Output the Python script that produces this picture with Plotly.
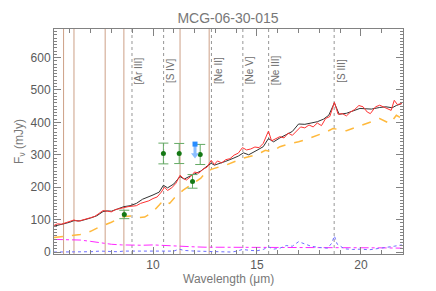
import plotly.graph_objects as go

title = "MCG-06-30-015"
x_title = "Wavelength (μm)"
y_title = "F<sub>ν</sub> (mJy)"

# Model (black)
model_wl = [5.24, 5.5, 5.7, 6.0, 6.2, 6.5, 6.8, 7.0, 7.3, 7.6, 7.8, 8.0, 8.3, 8.6, 8.9, 9.2, 9.5, 9.8,
            10.0, 10.3, 10.5, 10.7, 11.0, 11.3, 11.5, 11.8, 12.0, 12.3, 12.6, 12.8, 12.95, 13.2, 13.5,
            13.85, 14.1, 14.35, 14.6, 15.0, 15.3, 15.55, 15.8, 16.1, 16.4, 16.7, 17.0, 17.3, 17.6, 17.9,
            18.2, 18.45, 18.72, 18.95, 19.3, 19.6, 19.95, 20.2, 20.5, 20.9, 21.2, 21.5, 21.7, 21.96]
model_flux = [80, 85, 87, 92, 97, 96, 100, 105, 112, 125, 127, 126, 133, 140, 143, 150, 163, 170,
              176, 185, 206, 198, 210, 233, 225, 235, 242, 250, 265, 274, 268, 273, 280,
              289, 296, 306, 300, 314, 325, 350, 340, 352, 362, 372, 395, 394, 398, 402,
              410, 422, 460, 425, 428, 435, 443, 442, 441, 446, 448, 445, 452, 458]

# Spectrum (red)
spec_wl = [5.24, 5.4, 5.6, 5.8, 6.0, 6.2, 6.4, 6.6, 6.8, 7.0, 7.2, 7.4, 7.6, 7.8, 8.0, 8.2, 8.4, 8.6,
           8.8, 9.0, 9.2, 9.4, 9.6, 9.8, 10.0, 10.2, 10.4, 10.55, 10.7, 10.9, 11.1, 11.3, 11.45, 11.6,
           11.8, 12.0, 12.2, 12.4, 12.6, 12.8, 12.95, 13.1, 13.3, 13.5, 13.7, 13.9, 14.1, 14.3, 14.5,
           14.7, 14.9, 15.1, 15.3, 15.55, 15.7, 15.9, 16.1, 16.3, 16.5, 16.7, 16.9, 17.1, 17.3, 17.5,
           17.7, 17.9, 18.1, 18.3, 18.5, 18.72, 18.9, 19.1, 19.3, 19.5, 19.7, 19.9, 20.1, 20.3, 20.45,
           20.7, 20.9, 21.1, 21.3, 21.45, 21.6, 21.75, 21.96]
spec_flux = [82, 87, 86, 90, 95, 99, 95, 98, 103, 106, 110, 118, 128, 126, 124, 131, 133, 137,
             140, 142, 143, 150, 153, 158, 165, 170, 185, 200, 190, 198, 212, 237, 228, 222,
             232, 247, 243, 255, 262, 283, 270, 281, 275, 285, 288, 299, 305, 322, 315,
             318, 324, 322, 335, 373, 343, 350, 356, 352, 367, 360, 374, 386, 383, 392,
             386, 398, 390, 412, 418, 462, 425, 427, 420, 432, 440, 452, 448, 432, 427,
             448, 453, 447, 440, 437, 468, 455, 458]

# Continuum (orange dashed)
cont_wl = [5.24, 5.6, 6.0, 6.5, 7.0, 7.45, 8.0, 8.6, 9.0, 9.3, 9.6, 10.0, 10.3, 10.5, 10.8, 11.1,
           11.45, 11.8, 12.0, 12.3, 12.5, 12.8, 13.0, 13.2, 13.5, 13.85, 14.3, 14.6, 14.9, 15.2, 15.4,
           15.7, 16.1, 16.5, 17.0, 17.4, 17.7, 18.0, 18.35, 18.65, 19.0, 19.3, 19.8, 20.27, 20.6,
           20.9, 21.2, 21.4, 21.7, 21.96]
cont_flux = [45, 48, 50, 54, 64, 78, 92, 110, 111, 106, 108, 124, 145, 160, 150, 172,
             191, 205, 215, 228, 243, 255, 258, 263, 268, 278, 289, 294, 299, 307, 314,
             309, 325, 333, 340, 348, 355, 362, 371, 381, 376, 374, 386, 396, 404,
             412, 402, 396, 422, 412]

# Stellar-like component (magenta dash-dot)
star_wl = [5.24, 6.0, 6.5, 7.0, 7.5, 8.0, 8.5, 9.0, 9.5, 10.0, 10.5, 11.0, 11.5, 12.0, 12.5, 13.0,
           14.0, 15.0, 16.0, 17.0, 18.0, 19.0, 20.0, 21.0, 21.96]
star_flux = [39, 38, 37, 33, 28, 24, 22, 21, 21, 22, 20, 19, 18, 16, 15, 15,
             14, 14, 14, 14, 14, 13, 13, 13, 12]

# Line component (blue dotted)
line_wl = [5.24, 6.0, 6.5, 7.0, 7.45, 7.8, 8.3, 8.6, 9.0, 9.5, 10.0, 10.5, 11.0, 11.25, 11.5, 12.0,
           12.5, 12.8, 13.2, 13.8, 14.1, 14.3, 14.7, 15.0, 15.3, 15.55, 15.8, 16.1, 16.4, 16.7, 17.0,
           17.3, 17.6, 18.0, 18.4, 18.6, 18.72, 18.85, 19.2, 19.6, 20.0, 20.4, 20.8, 21.2, 21.6, 21.96]
line_flux = [0, 0, 1, 1, 3, 2, 1, 3, 3, 2, 1, 2, 3, 9, 5, 3,
             2, 3, 1, 0, 4, 8, 5, 4, 8, 16, 9, 12, 20, 18, 32,
             24, 18, 14, 12, 28, 50, 25, 10, 8, 9, 7, 10, 14, 18, 22]

# Photometry (green points)
phot_wl = [8.62, 10.5, 11.26, 11.9, 12.27]
phot_flux = [116, 304, 304, 218, 301]
phot_err = [13, 32, 31, 21, 31]

# Upper limit (blue)
lim_wl = [12.02]
lim_flux = [333]
lim_arrow_to = [299]

# PAH features (solid tan lines)
pah_wl = [5.7, 6.2, 7.7, 8.6, 11.3, 12.7]
# Emission lines (dotted)
em_wl = [8.99, 10.51, 12.81, 14.32, 15.56, 18.71]
em_names = ["[Ar III]", "[S IV]", "[Ne II]", "[Ne V]", "[Ne III]", "[S III]"]
em_label_y = 560

x_range = [5.24, 22.02]
y_range = [-6, 688]

fig = go.Figure()

for w in pah_wl:
    fig.add_shape(type="line", x0=w, x1=w, y0=0, y1=1, xref="x", yref="paper",
                  line=dict(color="rgb(205,160,135)", width=1), layer="below")
for w, nm in zip(em_wl, em_names):
    fig.add_shape(type="line", x0=w, x1=w, y0=0, y1=1, xref="x", yref="paper",
                  line=dict(color="rgb(150,150,150)", width=1, dash="dot"), layer="below")
    fig.add_annotation(x=w, y=em_label_y, text=nm, textangle=-90, showarrow=False,
                       xanchor="center", yanchor="middle", xshift=7,
                       font=dict(size=10, color="rgb(110,110,110)"))

fig.add_trace(go.Scatter(x=star_wl, y=star_flux, mode="lines",
                         line=dict(color="rgb(255,40,255)", width=1, dash="dashdot")))
fig.add_trace(go.Scatter(x=line_wl, y=line_flux, mode="lines",
                         line=dict(color="rgb(110,110,255)", width=1, dash="dot")))
fig.add_trace(go.Scatter(x=cont_wl, y=cont_flux, mode="lines",
                         line=dict(color="rgb(255,185,60)", width=1.5, dash="dash")))
fig.add_trace(go.Scatter(x=model_wl, y=model_flux, mode="lines",
                         line=dict(color="rgb(50,50,50)", width=1)))
fig.add_trace(go.Scatter(x=spec_wl, y=spec_flux, mode="lines",
                         line=dict(color="rgb(255,50,50)", width=1)))
fig.add_trace(go.Scatter(x=phot_wl, y=phot_flux, mode="markers",
                         marker=dict(color="rgb(20,120,20)", size=5, symbol="circle"),
                         error_y=dict(type="data", array=phot_err, color="rgb(100,170,100)",
                                      thickness=1, width=5)))
# upper limit: shaft + arrowhead + marker
for w, f, t in zip(lim_wl, lim_flux, lim_arrow_to):
    fig.add_trace(go.Scatter(x=[w, w], y=[f, t], mode="lines",
                             line=dict(color="rgb(140,190,255)", width=3)))
    fig.add_trace(go.Scatter(x=[w], y=[t], mode="markers",
                             marker=dict(color="rgb(140,190,255)", size=7, symbol="triangle-down")))
fig.add_trace(go.Scatter(x=lim_wl, y=lim_flux, mode="markers",
                         marker=dict(color="rgb(40,140,255)", size=5, symbol="square")))

# x-axis title placed as a paper annotation below the tick labels
fig.add_annotation(x=0.5, y=-0.111, xref="paper", yref="paper", text=x_title,
                   showarrow=False, xanchor="center", yanchor="middle",
                   font=dict(size=12, color="rgb(120,120,120)"))

axis_col = "rgb(130,130,130)"
font_col = "rgb(90,90,90)"
# page body adds an 8px offset; figure sized so the plot area lands where the reference has it
fig.update_layout(
    width=428, height=283,
    margin=dict(l=46, r=33, t=21, b=37, autoexpand=False),
    paper_bgcolor="white", plot_bgcolor="white",
    showlegend=False,
    font=dict(family="Liberation Sans, Arial, sans-serif", size=12, color=font_col),
    title=dict(text=title, x=0.514, xanchor="center", y=0.965, yanchor="middle",
               font=dict(size=14, color="rgb(120,120,120)")),
    xaxis=dict(range=x_range, showgrid=False, zeroline=False, automargin=False,
               tickmode="array", tickvals=[10, 15, 20], ticks="inside", ticklen=7,
               tickcolor=axis_col, showline=True, linecolor=axis_col, mirror="allticks",
               minor=dict(dtick=1, tick0=0, ticks="inside", ticklen=4, tickcolor=axis_col),
               tickfont=dict(size=12, color=font_col)),
    yaxis=dict(range=y_range, showgrid=False, zeroline=False, automargin=False,
               tickmode="linear", tick0=0, dtick=100, ticks="inside", ticklen=7,
               tickcolor=axis_col, showline=True, linecolor=axis_col, mirror="allticks",
               minor=dict(dtick=10, ticks="inside", ticklen=3, tickcolor=axis_col),
               title=dict(text=y_title, standoff=4, font=dict(size=12, color="rgb(120,120,120)")),
               tickfont=dict(size=12, color=font_col)),
)

fig.write_html("out.html")
